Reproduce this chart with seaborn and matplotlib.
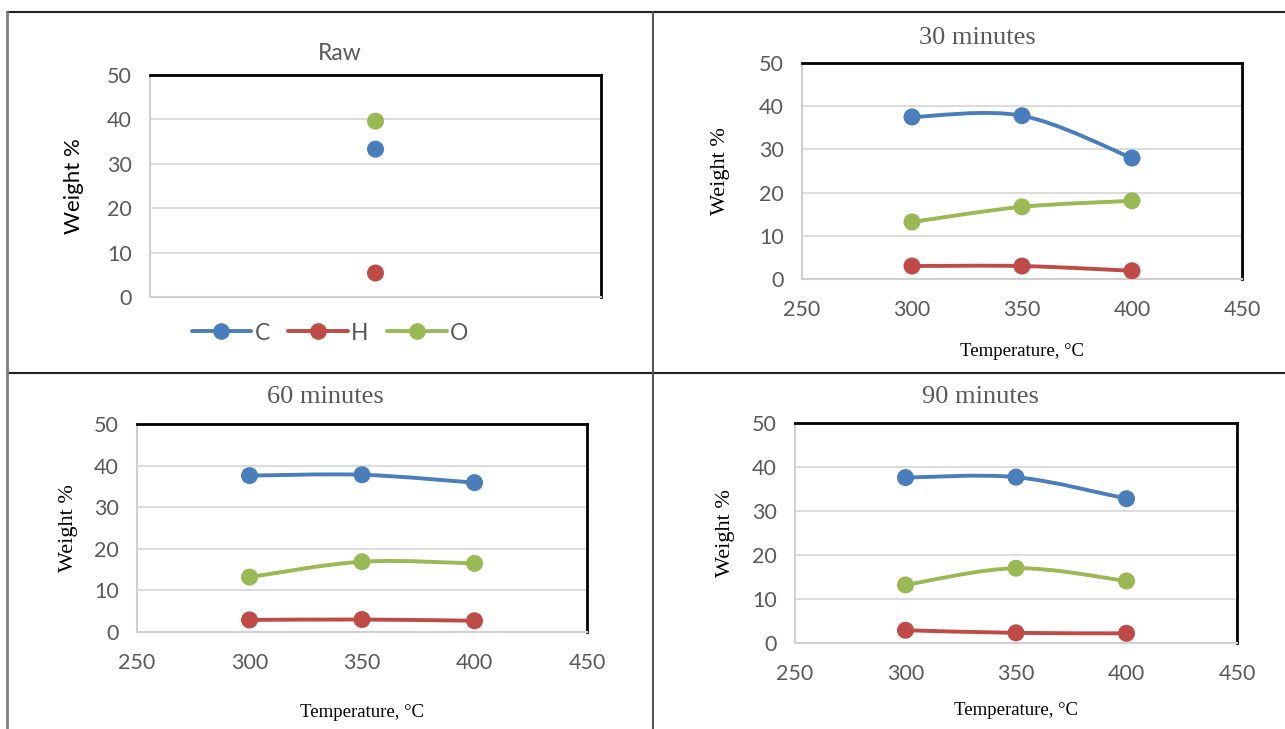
import numpy as np
import pandas as pd
import matplotlib
matplotlib.use("Agg")
import matplotlib.pyplot as plt
import seaborn as sns
from matplotlib.path import Path
from matplotlib.patches import PathPatch
from matplotlib.lines import Line2D

# Data

elements = ["C", "H", "O"]
temps = [300, 350, 400]

raw_C = 33.3
raw_H = 5.4
raw_O = 39.6

min30_C = [37.5, 37.8, 28.0]
min30_H = [3.0, 3.0, 1.9]
min30_O = [13.2, 16.7, 18.1]

min60_C = [37.6, 37.8, 35.9]
min60_H = [2.9, 3.0, 2.7]
min60_O = [13.2, 16.9, 16.5]

min90_C = [37.6, 37.7, 32.8]
min90_H = [2.9, 2.3, 2.2]
min90_O = [13.2, 17.0, 14.1]

yticks = [0, 10, 20, 30, 40, 50]
xticks = [250, 300, 350, 400, 450]

# Style

sns.set_theme(style="white")
plt.rcParams["font.family"] = ["Lato", "DejaVu Sans"]
colors = {"C": "#4A7EBB", "H": "#BE4B48", "O": "#98B954"}
tick_grey = "#595959"
serif = ["Liberation Serif", "DejaVu Serif"]

W, H = 1285, 729
fig = plt.figure(figsize=(W / 100, H / 100), dpi=100)


def px_axes(x0, y0, x1, y1):
    return fig.add_axes([x0 / W, 1 - y1 / H, (x1 - x0) / W, (y1 - y0) / H])


def style_axes(ax):
    ax.set_ylim(0, 50)
    ax.set_yticks(yticks)
    ax.grid(axis="y", color="#d9d9d9", linewidth=1.3)
    ax.grid(axis="x", visible=False)
    ax.set_axisbelow(True)
    for side in ["left", "bottom"]:
        ax.spines[side].set_color("#d0d0d0")
        ax.spines[side].set_linewidth(1.5)
    for side in ["top", "right"]:
        ax.spines[side].set_color("black")
        ax.spines[side].set_linewidth(2)
    ax.tick_params(axis="both", length=0, labelsize=15.5, labelcolor=tick_grey)
    ax.tick_params(axis="y", pad=13)
    ax.tick_params(axis="x", pad=15)


def smooth_line(ax, xs, ys, color):
    # Excel-like smoothed line drawn as cubic Bezier through the points
    pts = np.column_stack([xs, ys]).astype(float)
    n = len(pts)
    verts = [pts[0]]
    codes = [Path.MOVETO]
    for i in range(n - 1):
        p_prev = pts[i - 1] if i > 0 else pts[i]
        p_next2 = pts[i + 2] if i + 2 < n else pts[i + 1]
        c1 = pts[i] + (pts[i + 1] - p_prev) / 6
        c2 = pts[i + 1] - (p_next2 - pts[i]) / 6
        verts += [c1, c2, pts[i + 1]]
        codes += [Path.CURVE4] * 3
    ax.add_patch(PathPatch(Path(verts, codes), facecolor="none",
                           edgecolor=color, linewidth=2.8, capstyle="round",
                           zorder=2))


def time_panel(box, C, Hv, O, title, title_xy, xlab_y, ylab_x):
    ax = px_axes(*box)
    df = pd.DataFrame({
        "Temperature": temps * 3,
        "Weight": C + Hv + O,
        "Element": ["C"] * 3 + ["H"] * 3 + ["O"] * 3,
    })
    for el in elements:
        sub = df[df["Element"] == el]
        smooth_line(ax, sub["Temperature"], sub["Weight"], colors[el])
    sns.scatterplot(data=df, x="Temperature", y="Weight", hue="Element",
                    palette=colors, s=150, edgecolor="none", legend=False,
                    ax=ax, zorder=3)
    style_axes(ax)
    ax.set_xlim(250, 450)
    ax.set_xticks(xticks)
    ax.set_xlabel("Temperature, °C", family=serif, fontsize=13.5, color="black")
    ax.xaxis.set_label_coords(0.5, xlab_y)
    ax.set_ylabel("Weight %", family=serif, fontsize=16, color="black")
    ax.yaxis.set_label_coords(ylab_x, 0.5)
    fig.text(title_xy[0] / W, 1 - title_xy[1] / H, title, family=serif,
             fontsize=19, color="#595959", ha="center", va="center")
    return ax


# Raw panel
ax1 = px_axes(150, 75, 601, 297)
raw_df = pd.DataFrame({"Sample": ["Raw"] * 3, "Weight": [raw_C, raw_H, raw_O],
                       "Element": elements})
sns.scatterplot(data=raw_df, x="Sample", y="Weight", hue="Element",
                palette=colors, s=150, edgecolor="none", legend=False, ax=ax1,
                zorder=3)
style_axes(ax1)
ax1.set_xlim(-1, 1)
ax1.set_xticks([])
ax1.set_xlabel("")
ax1.set_ylabel("Weight %", fontsize=16, color="black")
ax1.yaxis.set_label_coords(-0.146, 0.5)
fig.text(340 / W, 1 - 53 / H, "Raw", fontsize=16.5, color="#595959",
         ha="center", va="center")
handles = [Line2D([], [], color=colors[el], marker="o", markersize=11,
                  linewidth=2.8) for el in elements]
fig.legend(handles, elements, loc="center", bbox_to_anchor=(330 / W, 1 - 333 / H),
           ncol=3, frameon=False, fontsize=16.5, labelcolor="#595959",
           handlelength=2.6, handletextpad=0.15, columnspacing=0.8)

time_panel((802, 63, 1242, 279), min30_C, min30_H, min30_O, "30 minutes",
           (977, 38), -0.296, -0.163)
time_panel((137, 424, 587, 632), min60_C, min60_H, min60_O, "60 minutes",
           (325, 397), -0.346, -0.131)
time_panel((795, 423, 1237, 643), min90_C, min90_H, min90_O, "90 minutes",
           (980, 397), -0.268, -0.136)

# Table borders
def fig_line(x0, y0, x1, y1, color="#222222", lw=1.5):
    fig.add_artist(Line2D([x0 / W, x1 / W], [1 - y0 / H, 1 - y1 / H],
                          color=color, linewidth=lw, transform=fig.transFigure))

fig_line(7, 12, W, 12)
fig_line(7, 373, W, 373)
fig_line(7, 12, 7, H, color="#808080", lw=2)
fig_line(653, 12, 653, H, color="#555555", lw=1.5)

fig.savefig("out.png", dpi=100)
